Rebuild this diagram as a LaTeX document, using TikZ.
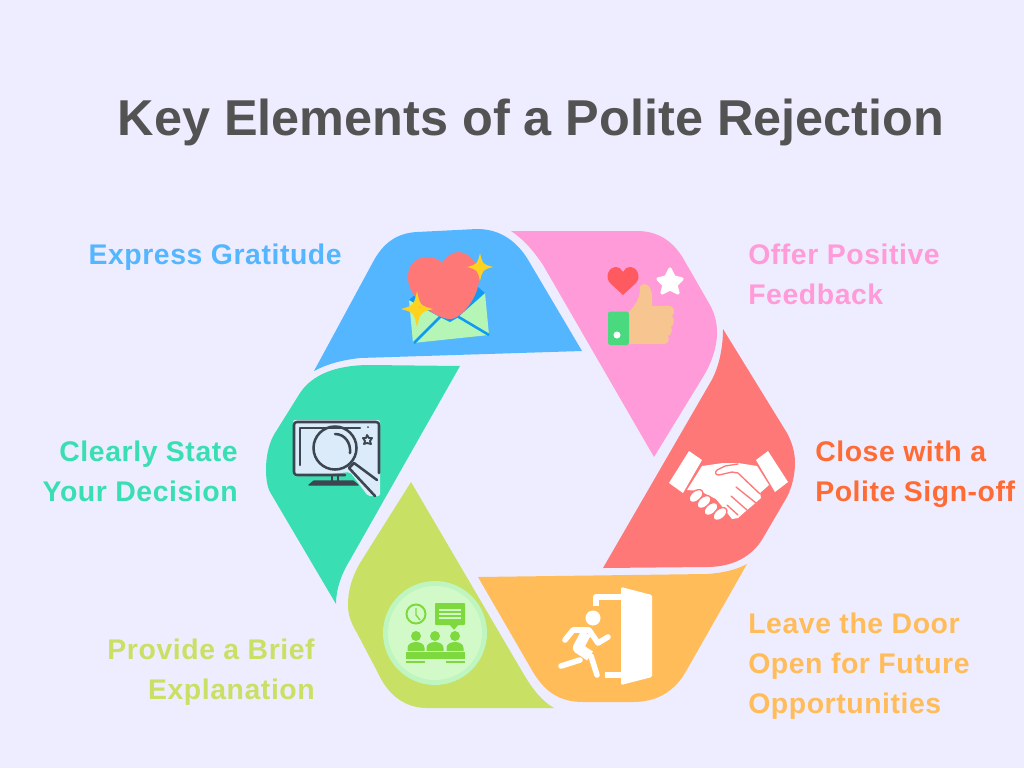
\documentclass[tikz,border=0pt]{standalone}
\usepackage{fontspec}
\setmainfont{Liberation Sans}
\newfontfamily\labfont[LetterSpace=2]{Liberation Sans}
\definecolor{bg}{HTML}{EEEDFF}
\definecolor{cblue}{HTML}{54B6FF}
\definecolor{cpink}{HTML}{FF9BD8}
\definecolor{cred}{HTML}{FF7878}
\definecolor{cteal}{HTML}{3ADEB3}
\definecolor{clime}{HTML}{C8E064}
\definecolor{corange}{HTML}{FFBC59}
\definecolor{tred}{HTML}{FF6B35}
\definecolor{cstar}{HTML}{FFD21F}
\definecolor{cenv}{HTML}{B5F5B5}
\definecolor{cline}{HTML}{0F9BF5}
\definecolor{chand}{HTML}{F7C58F}
\definecolor{csleeve}{HTML}{4BD97F}
\definecolor{cheart}{HTML}{FF5A5F}
\definecolor{cscreen}{HTML}{DCEBFA}
\definecolor{cmon}{HTML}{3C4650}
\definecolor{cring}{HTML}{BFF5BF}
\definecolor{cdisc}{HTML}{D2FAC8}
\definecolor{cicon}{HTML}{7ED93F}
\definecolor{ctitle}{HTML}{535353}
\tikzset{
 x=0.75pt,y=-0.75pt,
 lab/.style={inner sep=0pt,font=\labfont\fontsize{21.3pt}{30pt}\selectfont\bfseries},
 labl/.style={lab,anchor=west,align=left},
 labr/.style={lab,anchor=east,align=right},
 mon/.style={draw=cmon,line width=1.9pt,line cap=round,line join=round},
 wl/.style={draw=white,line width=4.2pt,line cap=round,line join=round},
 hl/.style={draw=cred,line width=1pt,line cap=round,line join=round},
}
\newcommand{\sparkle}[4]{\fill[cstar] (#1,#2-#4) .. controls (#1+0.2*#3,#2-0.2*#4) .. (#1+#3,#2) .. controls (#1+0.2*#3,#2+0.2*#4) .. (#1,#2+#4) .. controls (#1-0.2*#3,#2+0.2*#4) .. (#1-#3,#2) .. controls (#1-0.2*#3,#2-0.2*#4) .. cycle;}
\begin{document}
\begin{tikzpicture}
\useasboundingbox (0,0) rectangle (1024,768);
\fill[bg] (0,0) rectangle (1024,768);
\node[inner sep=0pt,text=ctitle,font=\fontsize{37.8pt}{42pt}\selectfont\bfseries] (title) at (531,122) {Key Elements of a Polite Rejection};

% hexagon segments
\fill[cblue] (314,371) -- (373,262) .. controls (383,243) and (397,233) .. (417,232) -- (477,229) .. controls (497,229) and (514,238) .. (527,258) -- (582,351) -- (360,358) .. controls (342,360) and (327,364) .. (314,371) -- cycle;
\fill[cpink] (511,231) -- (637,231) .. controls (657,231) and (672,240) .. (683,258) -- (710,305) .. controls (716,316) and (717,325) .. (717,333) .. controls (717,348) and (711,364) .. (703,377) -- (654,457) -- (543,265) .. controls (533,250) and (523,239) .. (511,231) -- cycle;
\fill[cred] (723,329) -- (787,433) .. controls (792,442) and (795,453) .. (795,462) .. controls (795,475) and (792,487) .. (787,497) -- (763,538) .. controls (752,557) and (732,567) .. (707,567) -- (603,568) -- (710,383) .. controls (718,370) and (723,350) .. (723,329) -- cycle;
\fill[corange] (747,564) -- (685,673) .. controls (673,693) and (655,702) .. (633,702) -- (583,702) .. controls (560,702) and (545,692) .. (533,672) -- (478,577) -- (707,574) .. controls (722,573) and (736,570) .. (747,564) -- cycle;
\fill[clime] (411,482) -- (523,673) .. controls (533,690) and (542,701) .. (554,708) -- (427,708) .. controls (405,708) and (388,695) .. (378,673) -- (357,633) .. controls (351,623) and (348,615) .. (348,605) .. controls (348,590) and (352,577) .. (360,563) -- cycle;
\fill[cteal] (460,366) -- (350,560) .. controls (342,573) and (336,588) .. (336,604) -- (270,492) .. controls (264,481) and (264,450) .. (275,433) -- (300,393) .. controls (312,375) and (335,365) .. (370,365) -- cycle;

% labels
\node[labr,text=cblue] (l1) at (342,257) {Express Gratitude};
\node[labl,text=cpink] (l2) at (748,274) {Offer Positive\\Feedback};
\node[labl,text=tred] (l3) at (815,474) {Close with a\\Polite Sign-off};
\node[labl,text=corange] (l4) at (748,666) {Leave the Door\\Open for Future\\Opportunities};
\node[labr,text=clime] (l5) at (315,672) {Provide a Brief\\Explanation};
\node[labr,text=cteal] (l6) at (238,471) {Clearly State\\Your Decision};

% icon: envelope and heart
\fill[cenv] (409,300) -- (485,293) -- (489,335) -- (413,343) -- cycle;
\fill[cline] (409,300) -- (416,294) -- (478,287) -- (485,293) -- (457,318) -- (450,322) -- (440,317) -- cycle;
\draw[cline,line width=1.9pt] (414,343) -- (441,316);
\draw[cline,line width=1.9pt] (489,335) -- (457,316);
\fill[cred] (442,263) .. controls (437,258) and (432,257) .. (427,257) .. controls (415,257) and (407,267) .. (408,278) .. controls (408,298) and (436,319) .. (450,319) .. controls (462,319) and (480,295) .. (479,277) .. controls (479,262) and (468,252) .. (458,252) .. controls (452,252) and (446,257) .. (442,263) -- cycle;
\sparkle{480}{267}{13}{14}
\sparkle{417}{309}{16}{18}

% icon: thumbs up
\fill[cheart] (623,295) -- (610,283) .. controls (604,276) and (610,267) .. (615,267) .. controls (619,267) and (622,269) .. (623,272) .. controls (624,269) and (627,267) .. (631,267) .. controls (636,267) and (642,276) .. (636,283) -- cycle;
\fill[white] (670,269) -- (674,277) -- (682,279) -- (676,285) -- (678,293) -- (670,289) -- (662,293) -- (664,285) -- (658,279) -- (666,277) -- cycle;
\draw[white,line width=2.4pt,line join=round] (670,269) -- (674,277) -- (682,279) -- (676,285) -- (678,293) -- (670,289) -- (662,293) -- (664,285) -- (658,279) -- (666,277) -- cycle;
\fill[chand] (629,312) -- (636,303) .. controls (640,296) and (640,290) .. (640,287) .. controls (641,283) and (648,283) .. (650,288) .. controls (653,293) and (652,300) .. (652,306) -- (670,306) .. controls (675,307) and (675,314) .. (672,316) .. controls (675,319) and (674,325) .. (671,327) .. controls (673,331) and (671,335) .. (668,336) .. controls (670,340) and (668,344) .. (664,344) -- (629,344) -- cycle;
\fill[csleeve,rounded corners=1.8pt] (608,311.5) rectangle (629,345);
\fill[white] (617,335) circle[radius=3.5];

% icon: monitor
\fill[cscreen,rounded corners=1.5pt] (293,420) -- (380,420) -- (380,496) -- (368,496) -- (350,472) -- (310,476) -- (293,476) -- cycle;
\draw[mon] (345,475) -- (297,475) .. controls (295,475) and (294,474) .. (294,472) -- (294,425) .. controls (294,423) and (295,422) .. (297,422) -- (376,422) .. controls (378,422) and (379,423) .. (379,425) -- (379,473);
\draw[mon] (300,465) -- (300,428) -- (360,428);
\fill[cmon] (368,427) circle[radius=1];
\draw[mon] (335,448) circle[radius=21.5];
\draw[mon] (335,434) .. controls (345,434) and (351,443) .. (350,453);
\draw[mon] (349,468) -- (354,463) -- (377,480);
\draw[mon] (349,468) -- (375,496);
\draw[mon,line width=1.3pt] (332,476) -- (332,483) (338,476) -- (338,483);
\draw[mon,fill=cmon,line width=1pt] (314,481) -- (353,481) -- (358,485) -- (309,485) -- cycle;
\draw[mon,line width=1.4pt] (367,435) -- (369,438) -- (372,438) -- (370,441) -- (371,444) -- (367,443) -- (364,444) -- (365,441) -- (363,438) -- (366,438) -- cycle;

% icon: handshake
\fill[white] (689,451) -- (702,460) -- (683,493) -- (669,483) -- cycle;
\fill[white] (768,451) -- (788,482) -- (775,492) -- (756,460) -- cycle;
\fill[white] (702,466) -- (723,463) -- (738,463) -- (757,466) -- (769,485) -- (760,493) -- (761,498) -- (753,505) -- (747,510) -- (738,518) -- (732,519) -- (725,510) -- (716,499) -- (700,491) -- (687,490) -- cycle;
\draw[hl] (738,464) -- (725,466) -- (717,470) .. controls (714,473) and (716,475) .. (719,475) -- (732,472) -- (738,473) -- (760,494);
\draw[hl] (736,487) -- (756,503) (731,496) -- (747,510) (727,505) -- (738,515);
\foreach \a/\b in {696/496,704/502,711/509,720/514}{\draw[hl,fill=white,rotate around={40:(\a,\b)}] (\a,\b) ellipse[x radius=8,y radius=5];}

% icon: meeting
\fill[cring] (435,633) circle[radius=52];
\fill[cdisc] (435,633) circle[radius=47];
\draw[cicon,line width=1.5pt] (416,614) circle[radius=9.5];
\draw[cicon,line width=1.1pt] (416,608) -- (416,615) -- (420,620);
\fill[cicon,rounded corners=0.7pt] (435,603) -- (465,603) -- (465,625) -- (458,625) -- (454,630) -- (450,625) -- (435,625) -- cycle;
\draw[cdisc,line width=0.9pt] (439,610) -- (461,610) (439,614) -- (461,614) (439,618) -- (461,618);
\foreach \a in {416,435,455}{
 \fill[cicon] (\a,636) circle[radius=5];
 \fill[cicon] (\a-8.5,651) -- (\a-8.5,648) .. controls (\a-8.5,640) and (\a+8.5,640) .. (\a+8.5,648) -- (\a+8.5,651) -- cycle;}
\fill[cicon] (406,652) rectangle (465,659);
\fill[cicon] (406,660.5) rectangle (425,662.5);
\fill[cicon] (446,660.5) rectangle (465,662.5);

% icon: exit door
\fill[white,rounded corners=1pt] (621,587) -- (652,595) -- (652,677) -- (621,685) -- cycle;
\draw[wl,line width=3.8pt,line cap=butt] (596,606) -- (596,597) -- (622,597);
\draw[wl,line width=3.8pt,line cap=butt] (605,675) -- (622,675);
\fill[white] (593,618) circle[radius=7.5];
\draw[white,line width=8pt,line join=round] (586,633) -- (578,648) -- (590,656);
\draw[wl] (565,640) -- (573,630) -- (589,630) -- (598,643) -- (608,637);
\draw[wl] (591,656) -- (597,675);
\draw[wl] (580,660) -- (561,666);
\end{tikzpicture}
\end{document}
